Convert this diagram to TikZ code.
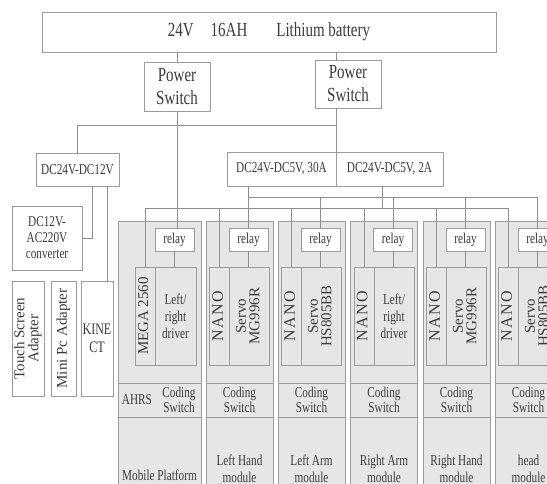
\documentclass[tikz,border=0pt]{standalone}
\usepackage{fontspec}
\usepackage{graphicx}
\setmainfont{Liberation Serif}[FakeStretch=0.75]
\newfontfamily\rotfont{Liberation Serif}
\newfontfamily\nanofont{Liberation Serif}[LetterSpace=9]
\definecolor{boxline}{HTML}{9C9C9C}
\definecolor{wireline}{HTML}{8E8E8E}
\definecolor{modfill}{HTML}{E6E6E6}
\definecolor{ink}{HTML}{3C3C3C}
\newcommand{\vtext}[1]{\rotatebox{90}{\begin{tabular}{@{}c@{}}#1\end{tabular}}}
\tikzset{
  box/.style={draw=boxline, fill=white, line width=0.8pt, inner sep=0pt, outer sep=0pt, align=center, text=ink},
  part/.style={box, fill=modfill},
  modbg/.style={fill=modfill, draw=boxline, line width=0.8pt, inner sep=0pt, outer sep=0pt, anchor=north west},
  wh/.style 2 args={minimum width=#1pt, minimum height=#2pt},
  wire/.style={draw=wireline, line width=0.8pt},
  big/.style={font=\fontsize{20}{23}\selectfont},
  mid/.style={font=\fontsize{15}{16}\selectfont},
  drvtext/.style={font=\fontsize{15}{17}\selectfont},
  vert/.style={font=\rotfont\fontsize{15}{12}\selectfont},
  nano/.style={font=\nanofont\fontsize{16}{12}\selectfont},
  label/.style={inner sep=0pt, align=center, text=ink, font=\fontsize{15}{17}\selectfont}
}
\begin{document}
\begin{tikzpicture}[x=1pt, y=-1pt]
  \clip (0,0) rectangle (547,483);
  \fill[white] (0,0) rectangle (547,483);
  % battery and switches
  \node[box, big, wh={454}{40}] (battery) at (269,32) {24V\hspace{17pt}16AH\hspace{29pt}Lithium battery};
  \node[box, big, wh={66}{49}] (psl) at (177,86.5) {Power\\Switch};
  \node[box, big, wh={66}{48}] (psr) at (348,84) {Power\\Switch};
  % converters
  \node[box, mid, wh={83}{33}] (dc12) at (77.5,169.5) {DC24V-DC12V};
  \node[box, mid, wh={109}{34}] (dc30) at (281.5,169) {DC24V-DC5V, 30A};
  \node[box, mid, wh={107}{34}] (dc2) at (389.5,169) {DC24V-DC5V, 2A};
  \node[box, mid, wh={70}{64}] (conv) at (47,238) {DC12V-\\AC220V\\converter};
  \node[box, vert, wh={32}{115}] (touch) at (28,338.5) {\vtext{Touch Screen\\Adapter}};
  \node[box, vert, wh={25}{115}] (mini) at (63.5,338.5) {\vtext{Mini Pc Adapter}};
  \node[box, wh={32}{115}, font=\fontsize{16}{18}\selectfont] (kinect) at (97,338.5) {KINE\\CT};
  % module backgrounds
  \node[modbg, wh={83}{270}] (mod1) at (118,221) {};
  \node[modbg, wh={67}{270}] (mod2) at (206,221) {};
  \node[modbg, wh={67}{270}] (mod3) at (278,221) {};
  \node[modbg, wh={67}{270}] (mod4) at (350.5,221) {};
  \node[modbg, wh={67}{270}] (mod5) at (423,221) {};
  \node[modbg, wh={67}{270}] (mod6) at (495,221) {};
  % relays
  \node[box, mid, wh={39}{23}] (relay1) at (174.5,239.5) {relay};
  \node[box, mid, wh={39}{23}] (relay2) at (248.5,239.5) {relay};
  \node[box, mid, wh={39}{23}] (relay3) at (320.5,239.5) {relay};
  \node[box, mid, wh={39}{23}] (relay4) at (393,239.5) {relay};
  \node[box, mid, wh={39}{23}] (relay5) at (465.5,239.5) {relay};
  \node[box, mid, wh={39}{23}] (relay6) at (537.5,239.5) {relay};
  % controllers and drivers
  \node[part, vert, wh={20}{98}] (ctl1) at (145,316) {\vtext{MEGA 2560}};
  \node[part, drvtext, wh={41}{98}] (drv1) at (175.5,316) {Left/\\right\\driver};
  \node[part, nano, wh={20}{98}] (ctl2) at (219.5,316) {\vtext{NANO}};
  \node[part, vert, wh={40}{98}] (drv2) at (249.5,316) {\vtext{Servo\\MG996R}};
  \node[part, nano, wh={20}{98}] (ctl3) at (291.5,316) {\vtext{NANO}};
  \node[part, vert, wh={40}{98}] (drv3) at (321.5,316) {\vtext{Servo\\HS805BB}};
  \node[part, nano, wh={20}{98}] (ctl4) at (364,316) {\vtext{NANO}};
  \node[part, drvtext, wh={40}{98}] (drv4) at (394,316) {Left/\\right\\driver};
  \node[part, nano, wh={20}{98}] (ctl5) at (436.5,316) {\vtext{NANO}};
  \node[part, vert, wh={40}{98}] (drv5) at (466.5,316) {\vtext{Servo\\MG996R}};
  \node[part, nano, wh={20}{98}] (ctl6) at (508.5,316) {\vtext{NANO}};
  \node[part, vert, wh={40}{98}] (drv6) at (538.5,316) {\vtext{Servo\\HS805BB}};
  % coding switches
  \node[part, wh={83}{34}] (code1) at (159.5,400) {};
  \node[label] (ahrs) at (137,400) {AHRS};
  \node[label, font=\fontsize{15}{15}\selectfont] (cs1) at (179,400) {Coding\\Switch};
  \node[part, mid, wh={67}{34}, font=\fontsize{15}{15}\selectfont] (code2) at (239.5,400) {Coding\\Switch};
  \node[part, mid, wh={67}{34}, font=\fontsize{15}{15}\selectfont] (code3) at (311.5,400) {Coding\\Switch};
  \node[part, mid, wh={67}{34}, font=\fontsize{15}{15}\selectfont] (code4) at (384,400) {Coding\\Switch};
  \node[part, mid, wh={67}{34}, font=\fontsize{15}{15}\selectfont] (code5) at (456.5,400) {Coding\\Switch};
  \node[part, mid, wh={67}{34}, font=\fontsize{15}{15}\selectfont] (code6) at (528.5,400) {Coding\\Switch};
  % module names
  \node[label] (lbl1) at (159.5,475) {Mobile Platform};
  \node[label] (lbl2) at (239.5,468.5) {Left Hand\\module};
  \node[label] (lbl3) at (311.5,468.5) {Left Arm\\module};
  \node[label] (lbl4) at (384,468.5) {Right Arm\\module};
  \node[label] (lbl5) at (456.5,468.5) {Right Hand\\module};
  \node[label] (lbl6) at (528.5,468.5) {head\\module};
  % wiring
  \coordinate (fork) at (336,125);
  \coordinate (bus30) at (0,197);
  \coordinate (bus2) at (0,208);
  \draw[wire] (psl.north) -- (psl.north |- battery.south);
  \draw[wire] (dc30.north east |- battery.south) -- (dc30.north east |- psr.north);
  \draw[wire] (dc30.north east |- psr.south) -- (dc30.north east);
  \draw[wire] (fork) -| (dc12.north);
  \draw[wire] ([xshift=14.5pt]dc12.south) |- (conv.east);
  \draw[wire] ([xshift=29.5pt]dc12.south) -- ([xshift=29.5pt]dc12.south |- kinect.north);
  \draw[wire] (psl.south) -- (psl.south |- relay1.north);
  \draw[wire] (relay2.north |- dc30.south) -- (relay2.north);
  \draw[wire] (relay2.north |- bus30) -| (relay6.north);
  \draw[wire] (relay3.north |- bus30) -- (relay3.north);
  \draw[wire] (relay4.north |- bus30) -- (relay4.north);
  \draw[wire] (relay5.north |- bus30) -- (relay5.north);
  \draw[wire] ([xshift=-7.5pt]dc2.south) -- ([xshift=-7.5pt]dc2.south |- bus2);
  \draw[wire] (ctl1.north) |- (ctl6.north |- bus2) -- (ctl6.north);
  \draw[wire] (ctl2.north |- bus2) -- (ctl2.north);
  \draw[wire] (ctl3.north |- bus2) -- (ctl3.north);
  \draw[wire] (ctl4.north |- bus2) -- (ctl4.north);
  \draw[wire] (ctl5.north |- bus2) -- (ctl5.north);
  \draw[wire] (relay1.south) -- (relay1.south |- drv1.north);
  \draw[wire] (relay2.south) -- (relay2.south |- drv2.north);
  \draw[wire] (relay3.south) -- (relay3.south |- drv3.north);
  \draw[wire] (relay4.south) -- (relay4.south |- drv4.north);
  \draw[wire] (relay5.south) -- (relay5.south |- drv5.north);
  \draw[wire] (relay6.south) -- (relay6.south |- drv6.north);
\end{tikzpicture}
\end{document}
